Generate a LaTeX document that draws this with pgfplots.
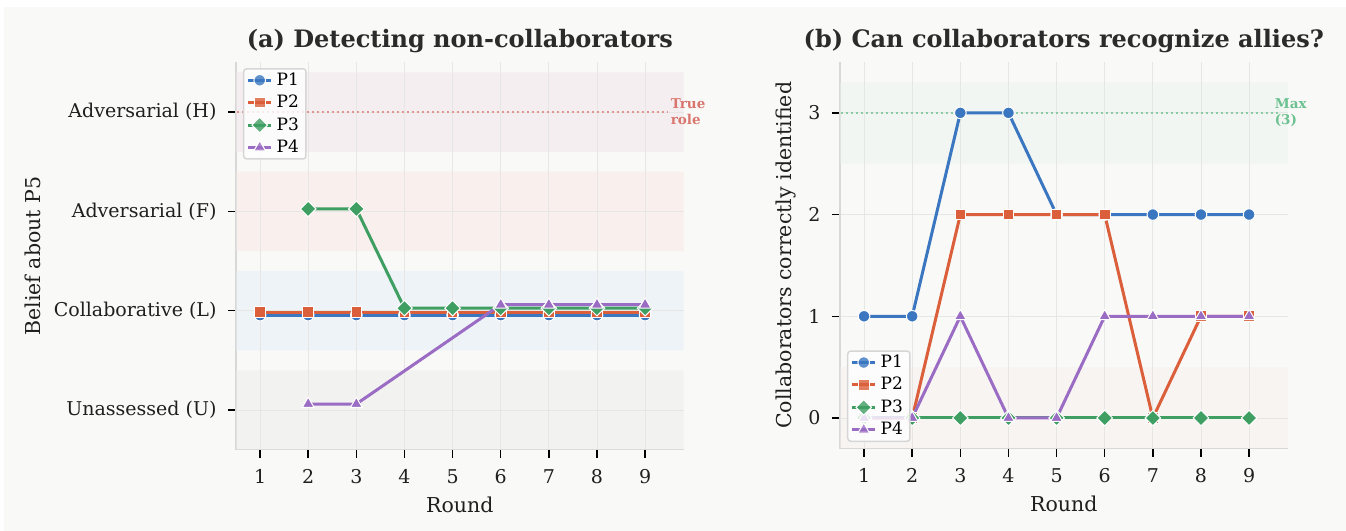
\documentclass[border=0pt]{standalone}
\usepackage{fontspec}
\setmainfont{DejaVu Serif}
\usepackage{pgfplots}
\pgfplotsset{compat=1.18}
\usepackage{pgfplotstable}
\usetikzlibrary{plotmarks}

\definecolor{bgc}{HTML}{F9F9F7}
\definecolor{cP1}{HTML}{3A77C0}
\definecolor{cP2}{HTML}{DA5F3A}
\definecolor{cP3}{HTML}{3F9E62}
\definecolor{cP4}{HTML}{9A6CC3}
\definecolor{bandH}{HTML}{F4EEF0}
\definecolor{bandF}{HTML}{F9EFEC}
\definecolor{bandL}{HTML}{EEF3F7}
\definecolor{bandU}{HTML}{F2F2F1}
\definecolor{bandMax}{HTML}{F1F6F2}
\definecolor{bandZero}{HTML}{F8F4F2}
\definecolor{gridc}{HTML}{E6E6E4}
\definecolor{spinec}{HTML}{D8D8D8}
\definecolor{truec}{HTML}{D9766E}
\definecolor{truel}{HTML}{E39590}
\definecolor{maxc}{HTML}{6CC190}
\definecolor{maxl}{HTML}{8ACDA5}
\definecolor{titlec}{HTML}{2B2B2B}
\definecolor{legc}{HTML}{D6D6D6}

\pgfplotstableread{
x y
1 0.955
2 0.955
3 0.955
4 0.955
5 0.955
6 0.955
7 0.955
8 0.955
9 0.955
}\aPone
\pgfplotstableread{
x y
1 0.985
2 0.985
3 0.985
4 0.985
5 0.985
6 0.985
7 0.985
8 0.985
9 0.985
}\aPtwo
\pgfplotstableread{
x y
2 2.025
3 2.025
4 1.025
5 1.025
6 1.025
7 1.025
8 1.025
9 1.025
}\aPthree
\pgfplotstableread{
x y
2 0.06
3 0.06
6 1.06
7 1.06
8 1.06
9 1.06
}\aPfour
\pgfplotstableread{
x y
1 1
2 1
3 3
4 3
5 2
6 2
7 2
8 2
9 2
}\bPone
\pgfplotstableread{
x y
1 0
2 0
3 2
4 2
5 2
6 2
7 0
8 1
9 1
}\bPtwo
\pgfplotstableread{
x y
1 0
2 0
3 0
4 0
5 0
6 0
7 0
8 0
9 0
}\bPthree
\pgfplotstableread{
x y
1 0
2 0
3 1
4 0
5 0
6 1
7 1
8 1
9 1
}\bPfour

\pgfplotsset{
  panel/.style={
    scale only axis,
    clip=false,
    /pgf/number format/assume math mode=true,
    axis x line*=bottom, axis y line*=left,
    axis line style={spinec, line width=1.2bp},
    xmin=0.5, xmax=9.8,
    xtick={1,...,9},
    tick align=outside,
    major tick length=8bp,
    tick style={black, line width=1.5bp},
    tick label style={font=\fontsize{19bp}{23bp}\selectfont, text=black!88},
    label style={font=\fontsize{20.5bp}{24bp}\selectfont, text=black!88},
    title style={font=\fontsize{24bp}{28bp}\selectfont\bfseries, text=titlec, anchor=base, at={(0.5,1)}, yshift=9bp},
    xlabel style={at={(0.5,0)}, anchor=base, yshift=-63bp},
    xticklabel style={anchor=base, yshift=-26bp},
    legend cell align=left,
    legend image code/.code={%
      \draw[mark repeat=2, mark phase=2] plot coordinates {(0bp,0bp) (11.5bp,0bp) (23bp,0bp)};},
    legend style={font=\fontsize{17bp}{20bp}\selectfont, draw=legc, line width=1.5bp, rounded corners=3bp,
      fill=white, fill opacity=0.8, text opacity=1, inner xsep=3bp, inner ysep=3bp, row sep=5.4bp,
      nodes={inner ysep=1.5bp, inner xsep=4bp, text height=12bp, text depth=2bp}},
    every axis plot/.append style={line width=3bp},
  },
  band/.style={forget plot, draw=none, fill=#1, mark=none},
  gridl/.style={forget plot, gridc, line width=0.8bp, mark=none},
  sP1/.style={cP1, mark=*, mark size=5.8bp, mark options={fill=cP1, draw=white, line width=1bp, solid}},
  sP2/.style={cP2, mark=square*, mark size=5.3bp, mark options={fill=cP2, draw=white, line width=1bp, solid}},
  sP3/.style={cP3, mark=square*, mark size=5.5bp, mark options={fill=cP3, draw=white, line width=1bp, solid, rotate=45}},
  sP4/.style={cP4, mark=triangle*, mark size=6.8bp, mark options={fill=cP4, draw=white, line width=1bp, solid}},
}

\begin{document}
\begin{tikzpicture}
\fill[white] (0,0) rectangle (1346bp,531bp);
\fill[bgc] (4bp,0) rectangle (1346bp,524bp);

% ---------- Panel (a)
\begin{axis}[panel,
  at={(236bp,81.3bp)}, anchor=south west,
  width=447.6bp, height=387.3bp,
  ymin=-0.4, ymax=3.5,
  ytick={0,1,2,3},
  yticklabels={Unassessed (U),Collaborative (L),Adversarial (F),Adversarial (H)},
  yticklabel style={anchor=east, xshift=-8bp},
  title={(a) Detecting non-collaborators},
  xlabel={Round},
  ylabel={Belief about P5},
  ylabel style={at={(0,0.5)}, anchor=center, yshift=203.5bp},
  legend style={at={(0.0156,0.9855)}, anchor=north west},
]
\addplot[band=bandH] coordinates {(0.515,2.6) (9.8,2.6) (9.8,3.4) (0.515,3.4) (0.515,2.6)};
\addplot[band=bandF] coordinates {(0.515,1.6) (9.8,1.6) (9.8,2.4) (0.515,2.4) (0.515,1.6)};
\addplot[band=bandL] coordinates {(0.515,0.6) (9.8,0.6) (9.8,1.4) (0.515,1.4) (0.515,0.6)};
\addplot[band=bandU] coordinates {(0.515,-0.393) (9.8,-0.393) (9.8,0.4) (0.515,0.4) (0.515,-0.393)};
\pgfplotsinvokeforeach{1,...,9}{\addplot[gridl] coordinates {(#1,-0.393) (#1,3.5)};}
\pgfplotsinvokeforeach{0,1,2,3}{\addplot[gridl] coordinates {(0.515,#1) (9.8,#1)};}
\addplot[forget plot, truel, line width=2bp, dash pattern=on 2bp off 3bp] coordinates {(0.515,3) (9.47,3)};
\addplot[sP1] table {\aPone};
\addplot[sP2] table {\aPtwo};
\addplot[sP3] table {\aPthree};
\addplot[sP4] table {\aPfour};
\legend{P1,P2,P3,P4}
\node[anchor=west, align=left, font=\fontsize{13.5bp}{16bp}\selectfont\bfseries, text=truec, inner sep=0pt] at (axis cs:9.53,3) {True\\role};
\end{axis}

% ---------- Panel (b)
\begin{axis}[panel,
  at={(840bp,82.5bp)}, anchor=south west,
  width=447.6bp, height=386.5bp,
  ymin=-0.3, ymax=3.5,
  ytick={0,1,2,3},
  yticklabel style={anchor=east, xshift=-8bp},
  title={(b) Can collaborators recognize allies?},
  xlabel={Round},
  ylabel={Collaborators correctly identified},
  ylabel style={at={(0,0.5)}, anchor=center, yshift=54bp},
  legend style={at={(0.0156,0.0168)}, anchor=south west},
]
\addplot[band=bandMax] coordinates {(0.515,2.5) (9.8,2.5) (9.8,3.3) (0.515,3.3) (0.515,2.5)};
\addplot[band=bandZero] coordinates {(0.515,-0.293) (9.8,-0.293) (9.8,0.5) (0.515,0.5) (0.515,-0.293)};
\pgfplotsinvokeforeach{1,...,9}{\addplot[gridl] coordinates {(#1,-0.293) (#1,3.5)};}
\pgfplotsinvokeforeach{0,1,2,3}{\addplot[gridl] coordinates {(0.515,#1) (9.8,#1)};}
\addplot[forget plot, maxl, line width=2bp, dash pattern=on 2bp off 3bp] coordinates {(0.515,3) (9.6,3)};
\addplot[sP1] table {\bPone};
\addplot[sP2] table {\bPtwo};
\addplot[sP3] table {\bPthree};
\addplot[sP4] table {\bPfour};
\legend{P1,P2,P3,P4}
\node[anchor=west, align=left, font=\fontsize{13.5bp}{16bp}\selectfont\bfseries, text=maxc, inner sep=0pt] at (axis cs:9.53,3) {Max\\(3)};
\end{axis}
\end{tikzpicture}
\end{document}
